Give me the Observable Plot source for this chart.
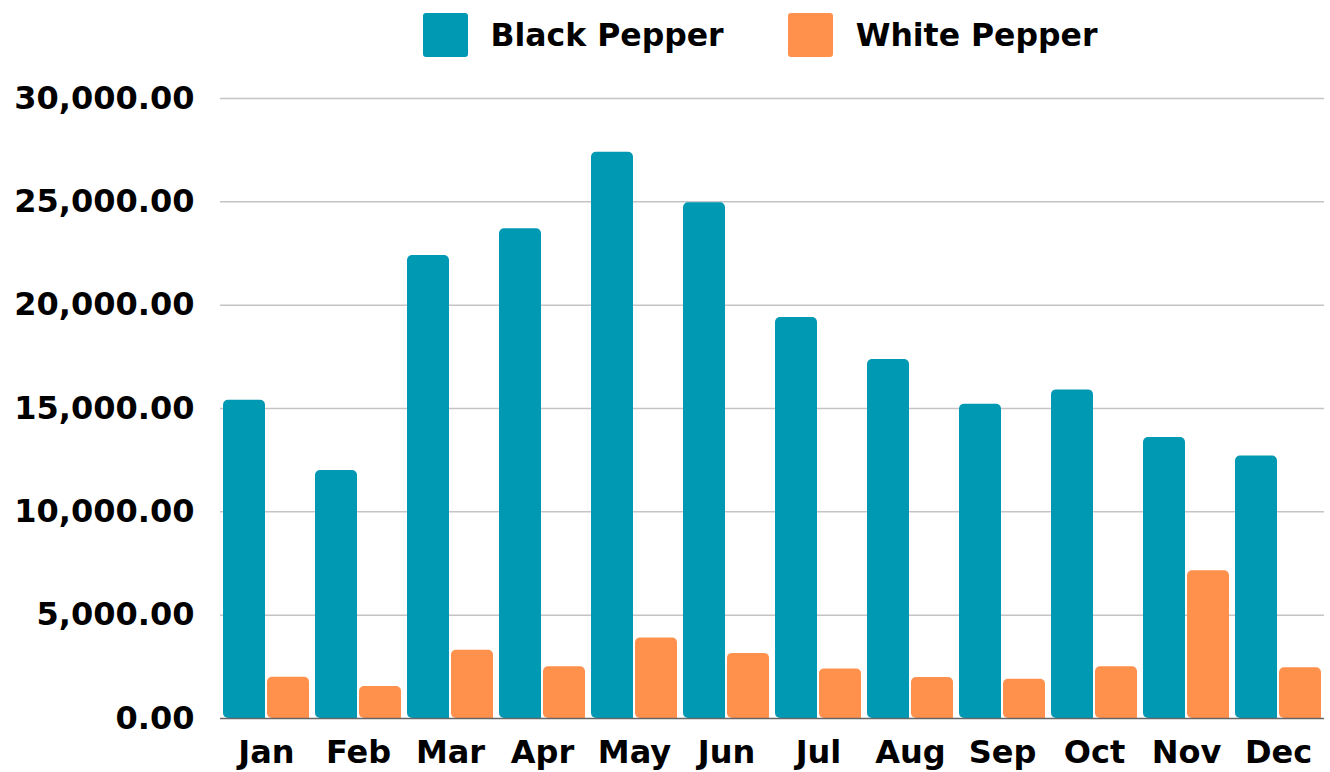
<!DOCTYPE html>
<html>
<head>
<meta charset="utf-8">
<script src="https://cdn.jsdelivr.net/npm/d3@7"></script>
<script src="https://cdn.jsdelivr.net/npm/@observablehq/plot@0.6"></script>
<style>
  html, body { margin: 0; padding: 0; background: #fff; }
  body { width: 1330px; height: 772px; overflow: hidden; font-family: "DejaVu Sans", sans-serif; }
  #legend { height: 70px; display: flex; align-items: center; justify-content: center; padding-left: 190px; font-weight: 700; font-size: 31.5px; color: #000; }
  .item { display: flex; align-items: center; }
  .sw { width: 45px; height: 44px; border-radius: 3px; margin-right: 23px; }
  #chart svg { display: block; }
</style>
</head>
<body>
<div id="legend"></div>
<div id="chart"></div>
<script>
const months = ["Jan","Feb","Mar","Apr","May","Jun","Jul","Aug","Sep","Oct","Nov","Dec"];
const series = ["Black Pepper","White Pepper"];
const blackPepper = [15400, 12000, 22400, 23700, 27400, 24950, 19400, 17370, 15200, 15900, 13600, 12700];
const whitePepper = [2000, 1550, 3300, 2500, 3900, 3150, 2400, 1980, 1900, 2500, 7150, 2450];
const yTicks = [0, 5000, 10000, 15000, 20000, 25000, 30000];
const colors = ["#0099b4", "#ff914d"];

const data = [];
months.forEach((m, i) => {
  data.push({month: m, series: series[0], value: blackPepper[i]});
  data.push({month: m, series: series[1], value: whitePepper[i]});
});

// legend
const legend = document.getElementById("legend");
series.forEach((s, i) => {
  const it = document.createElement("div");
  it.className = "item";
  it.style.marginRight = i === 0 ? "64px" : "0";
  const sw = document.createElement("div");
  sw.className = "sw";
  sw.style.background = colors[i];
  const t = document.createElement("span");
  t.textContent = s;
  it.appendChild(sw); it.appendChild(t);
  legend.appendChild(it);
});

const chart = Plot.plot({
  width: 1330,
  height: 702,
  marginTop: 28,
  marginBottom: 54,
  marginLeft: 217,
  marginRight: 3,
  style: {fontFamily: "'DejaVu Sans', sans-serif", fontSize: "32px", fontWeight: 700, color: "#000", background: "#fff"},
  fx: {domain: months, paddingInner: 0, paddingOuter: 0, label: null},
  x: {domain: series, paddingInner: 0.05, paddingOuter: 0.06, axis: null},
  y: {domain: [0, 30000], label: null},
  color: {domain: series, range: colors},
  marks: [
    Plot.gridY({ticks: yTicks.slice(1), stroke: "#c4c4c4", strokeOpacity: 1, strokeWidth: 1.5}),
    Plot.axisY({ticks: yTicks, tickFormat: d3.format(",.2f"), tickSize: 0, tickPadding: 26, label: null, fill: "#000", fontSize: 32}),
    Plot.axisFx({anchor: "bottom", tickSize: 0, tickPadding: 22, label: null, fill: "#000", fontSize: 32}),
    Plot.barY(data, {fx: "month", x: "series", y: "value", fill: "series", ry1: 5, rx1: 5}),
    Plot.ruleY([0], {stroke: "#666", strokeWidth: 1.5})
  ]
});
document.getElementById("chart").appendChild(chart);
</script>
</body>
</html>
